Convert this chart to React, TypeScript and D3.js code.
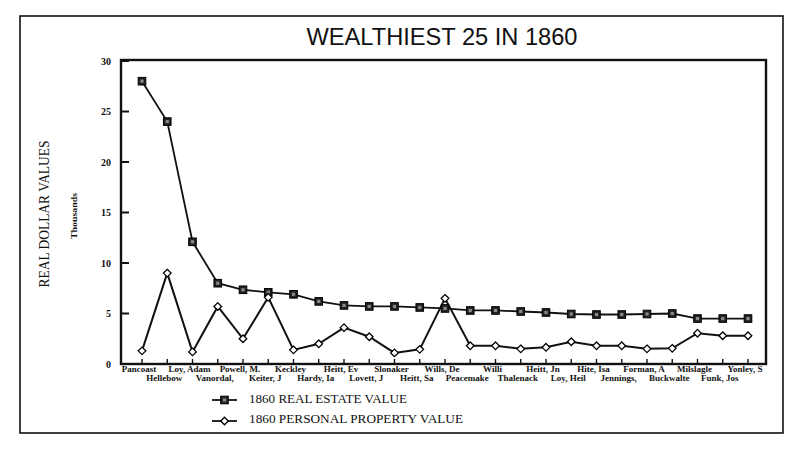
import React from "react";
import * as d3 from "d3";

const names = [
  "Pancoast", "Hellebow", "Loy, Adam", "Vanordal,", "Powell, M.", "Keiter, J",
  "Keckley", "Hardy, Ia", "Heitt, Ev", "Lovett, J", "Slonaker", "Heitt, Sa",
  "Wills, De", "Peacemake", "Willi", "Thalenack", "Heitt, Jn", "Loy, Heil",
  "Hite, Isa", "Jennings,", "Forman, A", "Buckwalte", "Milslagle", "Funk, Jos",
  "Yonley, S",
];
const realEstate = [
  28, 24, 12.1, 8.0, 7.35, 7.1, 6.9, 6.2, 5.8, 5.7, 5.7, 5.6, 5.5,
  5.3, 5.3, 5.2, 5.1, 4.95, 4.9, 4.9, 4.95, 5.0, 4.5, 4.5, 4.5,
];
const personal = [
  1.3, 9.0, 1.2, 5.7, 2.5, 6.6, 1.4, 2.0, 3.6, 2.7, 1.1, 1.45, 6.5,
  1.8, 1.8, 1.5, 1.65, 2.2, 1.8, 1.8, 1.5, 1.55, 3.05, 2.8, 2.8,
];
const yTicks = [0, 5, 10, 15, 20, 25, 30];
const title = "WEALTHIEST 25 IN 1860";
const yTitle = "REAL DOLLAR VALUES";
const yUnit = "Thousands";
const legendLabels = ["1860 REAL ESTATE VALUE", "1860 PERSONAL PROPERTY VALUE"];

const W = 797;
const H = 453;
const plot = { left: 121, top: 60, right: 766, bottom: 364 };

export default function App() {
  const x = d3.scalePoint<string>().domain(names).range([142, 748]);
  const y = d3.scaleLinear().domain([0, 30]).range([364, 61]);
  const line = d3
    .line<number>()
    .x((_, i) => x(names[i]) as number)
    .y((d) => y(d));

  const serif = "'Liberation Serif', 'DejaVu Serif', serif";
  const sans = "'Liberation Sans', Arial, sans-serif";

  const square = (cx: number, cy: number, key?: React.Key) => (
    <g key={key}>
      <rect x={cx - 3.8} y={cy - 3.8} width={7.6} height={7.6} fill="#222" stroke="#000" strokeWidth={1} />
      <rect x={cx - 1.6} y={cy - 1.6} width={3.2} height={3.2} fill="#888" />
    </g>
  );
  const diamond = (cx: number, cy: number, key?: React.Key) => (
    <path
      key={key}
      d={`M${cx},${cy - 3.8}L${cx + 3.8},${cy}L${cx},${cy + 3.8}L${cx - 3.8},${cy}Z`}
      fill="#fff"
      stroke="#000"
      strokeWidth={1.3}
    />
  );

  return (
    <svg
      width={W}
      height={H}
      style={{ position: "absolute", left: 0, top: 0, background: "#fff" }}
    >
      <rect x={0} y={0} width={W} height={H} fill="#fff" />
      {/* outer frame */}
      <rect x={20} y={16} width={763} height={417} fill="none" stroke="#111" strokeWidth={1.6} />
      {/* title */}
      <text
        x={442}
        y={45}
        textAnchor="middle"
        fontFamily={sans}
        fontSize={24}
        textLength={271}
        lengthAdjust="spacingAndGlyphs"
        fill="#111"
      >
        {title}
      </text>
      {/* y axis titles */}
      <text
        transform="translate(49,214) rotate(-90)"
        textAnchor="middle"
        fontFamily={serif}
        fontSize={14}
        textLength={147}
        lengthAdjust="spacingAndGlyphs"
        fill="#111"
      >
        {yTitle}
      </text>
      <text
        transform="translate(77,216) rotate(-90)"
        textAnchor="middle"
        fontFamily={serif}
        fontSize={8}
        fontWeight="bold"
        textLength={46}
        lengthAdjust="spacingAndGlyphs"
        fill="#111"
      >
        {yUnit}
      </text>
      {/* plot frame */}
      <rect
        x={plot.left}
        y={plot.top}
        width={plot.right - plot.left}
        height={plot.bottom - plot.top}
        fill="none"
        stroke="#111"
        strokeWidth={2.4}
      />
      {/* y ticks */}
      {yTicks.map((t) => (
        <g key={t}>
          <line x1={plot.left} x2={plot.left + 8} y1={y(t)} y2={y(t)} stroke="#111" strokeWidth={2} />
          <text
            x={111}
            y={y(t) + 3.5}
            textAnchor="end"
            fontFamily={serif}
            fontSize={10}
            fontWeight="bold"
            fill="#111"
          >
            {t}
          </text>
        </g>
      ))}
      {/* x ticks and labels */}
      {names.map((n, i) => (
        <g key={n}>
          <line
            x1={x(n)}
            x2={x(n)}
            y1={plot.bottom}
            y2={plot.bottom - 5}
            stroke="#111"
            strokeWidth={1.4}
          />
          <text
            x={(x(n) as number) - 3}
            y={i % 2 === 0 ? 372 : 381}
            textAnchor="middle"
            fontFamily={serif}
            fontSize={9}
            fontWeight="bold"
            fill="#111"
          >
            {n}
          </text>
        </g>
      ))}
      {/* series */}
      <path d={line(realEstate) ?? ""} fill="none" stroke="#111" strokeWidth={1.8} />
      <path d={line(personal) ?? ""} fill="none" stroke="#111" strokeWidth={2} />
      {realEstate.map((v, i) => square(x(names[i]) as number, y(v), "r" + i))}
      {personal.map((v, i) => diamond(x(names[i]) as number, y(v), "p" + i))}
      {/* legend */}
      <line x1={212} x2={237} y1={400} y2={400} stroke="#111" strokeWidth={1.8} />
      {square(224.5, 400)}
      <text x={249} y={403} fontFamily={serif} fontSize={13} textLength={158} lengthAdjust="spacingAndGlyphs" fill="#111">
        {legendLabels[0]}
      </text>
      <line x1={212} x2={237} y1={421} y2={421} stroke="#111" strokeWidth={1.8} />
      {diamond(224.5, 421)}
      <text x={249} y={423} fontFamily={serif} fontSize={13} textLength={214} lengthAdjust="spacingAndGlyphs" fill="#111">
        {legendLabels[1]}
      </text>
    </svg>
  );
}
